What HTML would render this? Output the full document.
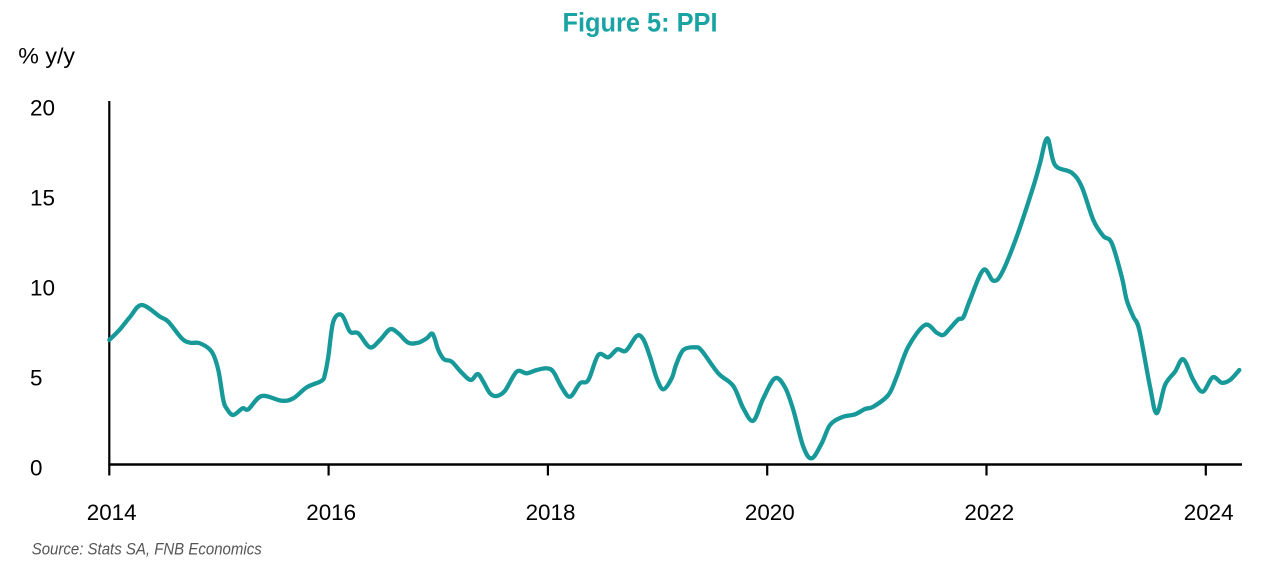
<!DOCTYPE html>
<html>
<head>
<meta charset="utf-8">
<style>
  html, body { margin:0; padding:0; background:#ffffff; }
  body { width:1280px; height:565px; overflow:hidden; }
  svg { display:block; }
  text { font-family: "Liberation Sans", Arial, sans-serif; }
</style>
</head>
<body>
<svg width="1280" height="565" viewBox="0 0 1280 565" xmlns="http://www.w3.org/2000/svg">
  <rect x="0" y="0" width="1280" height="565" fill="#ffffff"/>

  <!-- Title -->
  <text x="562.5" y="31.7" font-size="27" font-weight="bold" fill="#1aa3a3" textLength="155" lengthAdjust="spacingAndGlyphs">Figure 5: PPI</text>

  <!-- Y unit label -->
  <text x="18.3" y="63.3" font-size="22" fill="#000" textLength="56.7" lengthAdjust="spacingAndGlyphs">% y/y</text>

  <!-- Y tick labels -->
  <g font-size="22.4" fill="#000">
    <text x="30" y="115.7" textLength="25" lengthAdjust="spacingAndGlyphs">20</text>
    <text x="30" y="205.7" textLength="25" lengthAdjust="spacingAndGlyphs">15</text>
    <text x="30" y="295.7" textLength="25" lengthAdjust="spacingAndGlyphs">10</text>
    <text x="30" y="385.7">5</text>
    <text x="30" y="475.7">0</text>
  </g>

  <!-- X tick labels -->
  <g font-size="22.4" fill="#000" text-anchor="middle">
    <text x="111.7" y="520">2014</text>
    <text x="331.2" y="520">2016</text>
    <text x="550.5" y="520">2018</text>
    <text x="769.8" y="520">2020</text>
    <text x="989.3" y="520">2022</text>
    <text x="1208.7" y="520">2024</text>
  </g>

  <!-- Axes -->
  <line x1="109.3" y1="101" x2="109.3" y2="475.5" stroke="#000" stroke-width="2.2"/>
  <line x1="108.3" y1="464.5" x2="1242" y2="464.5" stroke="#000" stroke-width="2.4"/>
  <g stroke="#000" stroke-width="2.2">
    <line x1="328.6" y1="464" x2="328.6" y2="475.5"/>
    <line x1="547.9" y1="464" x2="547.9" y2="475.5"/>
    <line x1="767.2" y1="464" x2="767.2" y2="475.5"/>
    <line x1="986.5" y1="464" x2="986.5" y2="475.5"/>
    <line x1="1205.8" y1="464" x2="1205.8" y2="475.5"/>
  </g>

  <!-- PPI series -->
  <polyline id="ppi" fill="none" stroke="#17999a" stroke-width="4.3" stroke-linejoin="round" stroke-linecap="round"
    points="109.3,340 120,329.3 130,317 141.7,305 160,316.7 168.3,321.7 181.7,338.3 190,342.7 200,343.3 211.7,351.7 218.3,370 223.3,400 227,409 233.3,415 242.7,408.3 248.3,409.3 261.7,396 281.7,400.7 293.3,398.3 306.7,387.3 321.7,380.7 325,374 328.3,356.7 333.3,321.7 341.7,315 350,331.7 358.3,333.3 370,347.3 380,340 390,329.3 398.3,333.3 408.3,342.7 418.3,342.7 426.7,338.3 432.7,334 438.3,350 444,359.3 451.7,361.7 461.7,372.7 470.7,380 477.7,374 483.3,381.7 490,393.3 496.7,396 505,390.7 516.7,371.7 526.7,373.3 536.7,370 546.7,368.3 553.3,371.7 561.7,387.3 570,396.7 580,383.3 588.3,380 598.3,355 608.3,357.3 617.3,349.3 626,350.7 636.7,336 643.3,339.3 650,356.7 656.7,378.3 663.3,389.3 671.7,378.3 676,365 683.3,350 695,347.3 701.7,350.7 718.3,373.3 733.3,386 743.3,408.3 753.3,420.7 763.3,398.3 775,378.3 785,387.3 793.3,410 803.3,446.7 811.7,458.3 821.7,443.3 830,425 841.7,417.3 855,414.3 865,409 873.3,406.7 888.3,395 896.7,376.7 908.3,346.7 925,325 936.7,332.7 943.3,335 950,328.3 958.3,319.3 963.3,317.3 970,300 983.3,270 993.3,280.7 1001.7,273.3 1016.7,236.7 1033.3,186.7 1040,163.3 1047.3,138.3 1055,165 1071.7,172.7 1081.7,186.7 1093.3,220 1103.3,236 1111.7,243 1121.7,276.7 1126.7,300 1133.3,316.7 1139.3,330 1150,386.7 1156.7,413.3 1165,385 1175,371.7 1183.3,359.3 1193.3,380 1202.7,391.7 1212.7,377.3 1221.7,382.7 1230,380 1239.3,370"/>

  <!-- Source -->
  <text x="31.7" y="554.3" font-size="17" font-style="italic" fill="#555555" textLength="230" lengthAdjust="spacingAndGlyphs">Source: Stats SA, FNB Economics</text>
</svg>
<script>
(function(){
  var pl = document.getElementById('ppi');
  if (!pl) return;
  var raw = pl.getAttribute('points').trim().split(/\s+/).map(function(s){var a=s.split(',');return [parseFloat(a[0]),parseFloat(a[1])];});
  var n = raw.length;
  var d = 'M' + raw[0][0] + ',' + raw[0][1];
  for (var i = 0; i < n - 1; i++) {
    var p0 = raw[i > 0 ? i - 1 : i], p1 = raw[i], p2 = raw[i + 1], p3 = raw[i + 2 < n ? i + 2 : i + 1];
    var c1x = p1[0] + (p2[0] - p0[0]) / 6, c1y = p1[1] + (p2[1] - p0[1]) / 6;
    var c2x = p2[0] - (p3[0] - p1[0]) / 6, c2y = p2[1] - (p3[1] - p1[1]) / 6;
    d += ' C' + c1x.toFixed(2) + ',' + c1y.toFixed(2) + ' ' + c2x.toFixed(2) + ',' + c2y.toFixed(2) + ' ' + p2[0] + ',' + p2[1];
  }
  var path = document.createElementNS('http://www.w3.org/2000/svg', 'path');
  path.setAttribute('d', d);
  path.setAttribute('fill', 'none');
  path.setAttribute('stroke', '#17999a');
  path.setAttribute('stroke-width', '4.3');
  path.setAttribute('stroke-linejoin', 'round');
  path.setAttribute('stroke-linecap', 'round');
  pl.parentNode.replaceChild(path, pl);
})();
</script>
</body>
</html>
